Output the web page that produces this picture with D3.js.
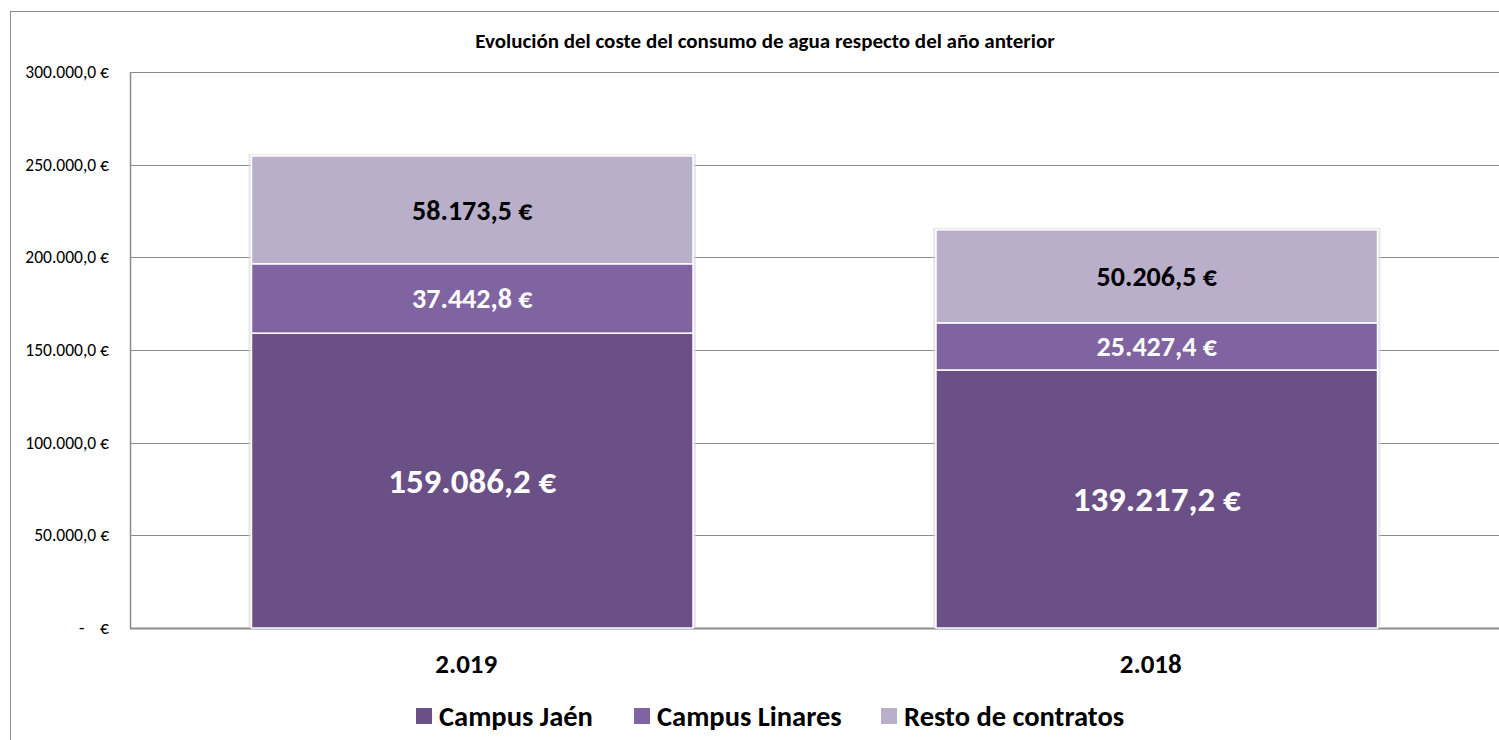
<!DOCTYPE html>
<html>
<head>
<meta charset="utf-8">
<script src="https://cdn.jsdelivr.net/npm/d3@7"></script>
<style>
  html, body { margin: 0; padding: 0; background: #fff; }
  svg { display: block; font-family: Carlito, Lato, "Open Sans", sans-serif; }
  text { white-space: pre; }
</style>
</head>
<body>
<svg id="chart" width="1499" height="740"></svg>
<script>
const title = "Evolución del coste del consumo de agua respecto del año anterior";
const categories = ["2.019", "2.018"];
const seriesNames = ["Campus Jaén", "Campus Linares", "Resto de contratos"];
const campusJaen = [159086.2, 139217.2];
const campusLinares = [37442.8, 25427.4];
const restoContratos = [58173.5, 50206.5];
const yTicks = [0, 50000, 100000, 150000, 200000, 250000, 300000];
const yTickLabels = ["-    €", "50.000,0 €", "100.000,0 €", "150.000,0 €", "200.000,0 €", "250.000,0 €", "300.000,0 €"];
const colors = ["#6a5086", "#8064a2", "#b9afca"];
const labelColors = ["#ffffff", "#ffffff", "#000000"];
const labelSizes = [35, 28, 28];

const svg = d3.select("#chart");
const W = 1499, H = 740;
const m = { left: 130, right: 0, top: 72, bottom: 112 };

// outer chart border
svg.append("rect").attr("x", 10.5).attr("y", 11.5).attr("width", W).attr("height", H)
  .attr("fill", "none").attr("stroke", "#8c8c8c").attr("stroke-width", 1);

const x = d3.scaleBand().domain(categories).range([m.left, W - m.right]).paddingInner(0.355).paddingOuter(0.1775);
const y = d3.scaleLinear().domain([0, 300000]).range([H - m.bottom, m.top]);

// gridlines
svg.append("g").selectAll("line").data(yTicks).join("line")
  .attr("x1", m.left).attr("x2", W)
  .attr("y1", d => Math.round(y(d)) + 0.5).attr("y2", d => Math.round(y(d)) + 0.5)
  .attr("stroke", "#8c8c8c").attr("stroke-width", 1);

// axes
svg.append("line").attr("x1", m.left + 0.5).attr("x2", m.left + 0.5)
  .attr("y1", y(300000)).attr("y2", y(0) + 1).attr("stroke", "#8c8c8c").attr("stroke-width", 1.5);
svg.append("line").attr("x1", m.left).attr("x2", W)
  .attr("y1", Math.round(y(0)) + 0.5).attr("y2", Math.round(y(0)) + 0.5).attr("stroke", "#8c8c8c").attr("stroke-width", 2);

const yAxis = d3.axisLeft(y).tickValues(yTicks).tickSize(0).tickPadding(14)
  .tickFormat((d, i) => yTickLabels[i]);
const ya = svg.append("g").attr("transform", `translate(${m.left - 7},0)`).call(yAxis);
ya.select(".domain").remove();
ya.attr("font-family", null).attr("font-size", null);
ya.selectAll("text").attr("font-size", 17.5).attr("fill", "#000");

// stacked data
const table = categories.map((c, i) => ({ cat: c, s0: campusJaen[i], s1: campusLinares[i], s2: restoContratos[i] }));
const stack = d3.stack().keys(["s0", "s1", "s2"])(table);

// bar shadows
svg.append("g").selectAll("rect").data(categories).join("rect")
  .attr("x", d => x(d) - 3).attr("width", x.bandwidth() + 6)
  .attr("y", (d, i) => y(campusJaen[i] + campusLinares[i] + restoContratos[i]) - 2)
  .attr("height", (d, i) => y(0) - y(campusJaen[i] + campusLinares[i] + restoContratos[i]) + 2)
  .attr("fill", "#d9d9d9").attr("opacity", 0.6);

const layers = svg.append("g").selectAll("g").data(stack).join("g")
  .attr("fill", (d, i) => colors[i]);
layers.selectAll("rect").data(d => d).join("rect")
  .attr("x", d => x(d.data.cat)).attr("width", x.bandwidth())
  .attr("y", d => y(d[1])).attr("height", d => y(d[0]) - y(d[1]))
  .attr("stroke", "#ffffff").attr("stroke-width", 1.5);

// value labels
const fmt = v => {
  const parts = v.toFixed(1).split(".");
  return parts[0].replace(/\B(?=(\d{3})+(?!\d))/g, ".") + "," + parts[1] + " €";
};
stack.forEach((layer, li) => {
  svg.append("g").selectAll("text").data(layer).join("text")
    .attr("x", d => x(d.data.cat) + x.bandwidth() / 2)
    .attr("y", d => (y(d[0]) + y(d[1])) / 2)
    .attr("dy", "0.35em").attr("text-anchor", "middle")
    .attr("font-weight", "bold").attr("font-size", labelSizes[li])
    .attr("fill", labelColors[li])
    .text(d => fmt(d[1] - d[0]));
});

// x labels
svg.append("g").selectAll("text").data(categories).join("text")
  .attr("x", d => x(d) + x.bandwidth() / 2 - 6).attr("y", 664).attr("dy", "0.35em")
  .attr("text-anchor", "middle").attr("font-weight", "bold").attr("font-size", 27).attr("fill", "#000")
  .text(d => d);

// title
svg.append("text").attr("x", 765).attr("y", 41).attr("dy", "0.35em").attr("text-anchor", "middle")
  .attr("font-weight", "bold").attr("font-size", 21).attr("fill", "#000").text(title);

// legend
const legendX = [416, 634, 881];
const lg = svg.append("g").selectAll("g").data(seriesNames).join("g")
  .attr("transform", (d, i) => `translate(${legendX[i]},716)`);
lg.append("rect").attr("x", 0).attr("y", -8).attr("width", 16).attr("height", 16).attr("fill", (d, i) => colors[i]);
lg.append("text").attr("x", 23).attr("y", 0).attr("dy", "0.35em").attr("font-weight", "bold")
  .attr("font-size", 28.5).attr("fill", "#000").text(d => d);
</script>
</body>
</html>
